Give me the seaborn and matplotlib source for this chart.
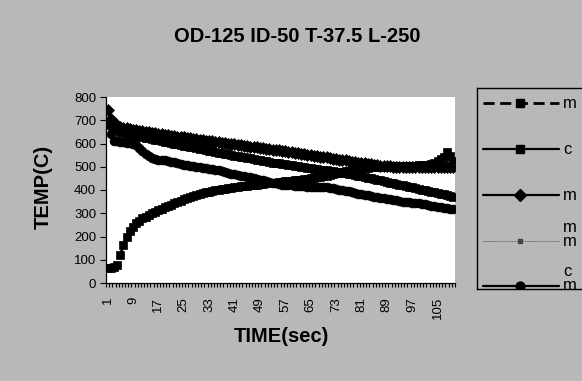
import matplotlib
matplotlib.use("Agg")
import matplotlib.pyplot as plt
import numpy as np
import pandas as pd
import seaborn as sns

# ---- data -------------------------------------------------------------
time_sec = list(range(1, 111))

mold_outer = [65, 66, 68, 76, 120, 165, 198, 222, 242, 257,
              268, 278, 286, 292, 299, 306, 313, 319, 326, 332,
              337, 342, 348, 354, 360, 365, 370, 374, 378, 382,
              386, 390, 393, 396, 399, 402, 404, 406, 408, 410,
              412, 414, 416, 417, 419, 420, 422, 423, 425, 426,
              428, 429, 431, 432, 434, 435, 437, 438, 440, 441,
              443, 444, 446, 448, 450, 452, 454, 457, 459, 462,
              465, 468, 471, 474, 477, 480, 483, 486, 488, 490,
              492, 494, 496, 497, 498, 499, 500, 501, 502, 502,
              503, 503, 504, 504, 504, 505, 505, 505, 506, 506,
              507, 508, 512, 518, 525, 533, 542, 565, 545, 525]

core_outer = [692, 680, 668, 658, 650, 646, 643, 640, 637, 634,
              631, 628, 625, 622, 619, 616, 614, 611, 608, 605,
              602, 600, 597, 594, 591, 588, 586, 583, 580, 577,
              575, 572, 569, 567, 564, 561, 559, 556, 553, 551,
              548, 546, 543, 541, 538, 536, 533, 531, 528, 526,
              523, 521, 518, 516, 514, 512, 510, 508, 506, 504,
              502, 500, 498, 496, 494, 492, 490, 488, 486, 484,
              482, 480, 478, 476, 474, 472, 469, 467, 464, 462,
              459, 456, 453, 450, 447, 444, 441, 438, 435, 432,
              429, 426, 423, 420, 417, 414, 411, 408, 405, 402,
              399, 396, 393, 390, 387, 384, 381, 378, 375, 372]

mold_inner = [746, 705, 690, 680, 672, 668, 665, 662, 659, 656,
              654, 652, 650, 648, 646, 644, 642, 640, 638, 636,
              634, 632, 630, 628, 626, 624, 622, 620, 618, 616,
              614, 612, 610, 609, 607, 605, 603, 601, 599, 598,
              596, 594, 592, 590, 588, 586, 585, 583, 581, 579,
              578, 576, 574, 572, 570, 568, 566, 564, 562, 560,
              558, 556, 554, 552, 550, 548, 546, 544, 542, 540,
              538, 535, 533, 531, 529, 527, 524, 522, 520, 518,
              516, 514, 512, 510, 508, 506, 505, 504, 503, 502,
              501, 501, 500, 500, 501, 500, 500, 501, 500, 500,
              501, 500, 500, 501, 500, 500, 501, 500, 500, 501]

core_inner = [686, 640, 612, 609, 607, 605, 603, 601, 598, 593,
              582, 568, 555, 545, 538, 534, 531, 529, 527, 525,
              522, 519, 515, 511, 508, 506, 504, 502, 500, 497,
              495, 493, 491, 489, 487, 484, 481, 478, 474, 470,
              467, 464, 462, 460, 457, 454, 450, 447, 444, 441,
              438, 435, 432, 429, 426, 423, 422, 421, 420, 419,
              418, 417, 416, 415, 414, 414, 414, 413, 413, 412,
              410, 407, 404, 401, 399, 397, 394, 390, 386, 383,
              381, 379, 377, 375, 372, 369, 367, 365, 363, 361,
              359, 356, 353, 350, 348, 347, 346, 345, 343, 341,
              338, 335, 332, 330, 328, 326, 324, 322, 320, 318]

series_labels = ["m", "c", "m", "m\nm", "c\nm"]
series_values = [mold_outer, core_outer, mold_inner, None, core_inner]

x_tick_labels = [str(v) for v in range(1, 106, 8)]
y_ticks = list(range(0, 801, 100))

title = "OD-125 ID-50 T-37.5 L-250"
x_title = "TIME(sec)"
y_title = "TEMP(C)"

# ---- styling ------------------------------------------------------------
sns.set_style("white")
plt.rcParams["font.family"] = ["Liberation Sans", "DejaVu Sans"]
plt.rcParams["text.color"] = "black"
plt.rcParams["xtick.color"] = "black"
plt.rcParams["ytick.color"] = "black"
plt.rcParams["axes.labelcolor"] = "black"

GRAY = "#B8B8B8"
W, H = 582, 381

series_styles = [
    dict(linestyle=(0, (4, 2)), marker="s", markersize=6.0, linewidth=2.0, color="black"),
    dict(linestyle="-", marker="s", markersize=6.0, linewidth=1.6, color="black"),
    dict(linestyle="-", marker="D", markersize=6.4, linewidth=1.6, color="black"),
    dict(linestyle=(0, (1, 1)), marker="s", markersize=2.8, linewidth=0.6, color="#444444"),
    dict(linestyle="-", marker="o", markersize=6.4, linewidth=1.6, color="black"),
]

fig = plt.figure(figsize=(W / 100, H / 100), dpi=100, facecolor=GRAY)

# plot area
ax = fig.add_axes([106 / W, 1 - 283 / H, (455 - 106) / W, (283 - 97) / H])
ax.set_facecolor("white")

for label, values, st in zip(series_labels, series_values, series_styles):
    if values is None:
        continue
    df = pd.DataFrame({"time": time_sec, "temp": values})
    sns.lineplot(data=df, x="time", y="temp", ax=ax,
                 color=st["color"], linestyle=st["linestyle"],
                 linewidth=st["linewidth"], marker=st["marker"],
                 markersize=st["markersize"], markeredgecolor=st["color"],
                 markerfacecolor=st["color"], markeredgewidth=0.5,
                 legend=False, clip_on=True)

ax.set_xlim(0.5, len(time_sec) + 0.5)
ax.set_ylim(0, 800)
ax.set_xlabel("")
ax.set_ylabel("")

ax.set_xticks([int(t) for t in x_tick_labels])
ax.set_xticklabels(x_tick_labels, rotation=90, fontsize=9.5)
ax.set_xticks(np.arange(0.5, len(time_sec) + 1, 1), minor=True)
ax.tick_params(axis="x", which="major", length=0, pad=10)
ax.tick_params(axis="x", which="minor", length=3, width=0.8, direction="out",
               color="black", bottom=True)
ax.set_yticks(y_ticks)
ax.set_yticklabels([str(v) for v in y_ticks], fontsize=9.5)
ax.tick_params(axis="y", which="major", length=4, width=0.8, direction="out",
               color="black", left=True, pad=3)
for side in ("top", "right"):
    ax.spines[side].set_visible(False)
for side in ("left", "bottom"):
    ax.spines[side].set_color("black")
    ax.spines[side].set_linewidth(0.9)

fig.text(297 / W, 1 - 36 / H, title, ha="center", va="center",
         fontsize=14.5, fontweight="bold")
fig.text(281 / W, 1 - 337 / H, x_title, ha="center", va="center",
         fontsize=14.5, fontweight="bold")
fig.text(43 / W, 1 - 187 / H, y_title, ha="center", va="center",
         rotation=90, fontsize=14.5, fontweight="bold")

# legend box (extends past the right edge of the chart)
lx0, lx1, ly0, ly1 = 477, 600, 88, 289
lax = fig.add_axes([lx0 / W, 1 - ly1 / H, (lx1 - lx0) / W, (ly1 - ly0) / H])
lax.set_xlim(lx0, lx1)
lax.set_ylim(ly1, ly0)
lax.set_facecolor(GRAY)
lax.set_xticks([])
lax.set_yticks([])
for sp in lax.spines.values():
    sp.set_color("black")
    sp.set_linewidth(1.0)

entry_y = [103, 149, 195, 241, 286]
for label, st, y in zip(series_labels, series_styles, entry_y):
    lax.plot([483, 559], [y, y], color=st["color"], linestyle=st["linestyle"],
             linewidth=st["linewidth"], clip_on=True)
    lax.plot([520], [y], color=st["color"], marker=st["marker"],
             markersize=st["markersize"], markeredgecolor=st["color"],
             linestyle="none", clip_on=True)
    for j, line in enumerate(reversed(label.split("\n"))):
        lax.text(563, y - j * 14, line, ha="left", va="center",
                 fontsize=12, clip_on=True)

fig.savefig("out.png", dpi=100, facecolor=GRAY)
